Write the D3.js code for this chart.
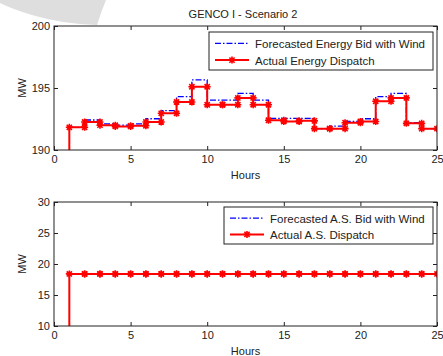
<!DOCTYPE html>
<html>
<head>
<meta charset="utf-8">
<script src="https://cdn.jsdelivr.net/npm/d3@7"></script>
<style>
  body { margin: 0; background: #fff; }
  svg text { font-family: "Liberation Sans", Arial, sans-serif; font-size: 11px; fill: #222; }
</style>
</head>
<body>
<div id="graph"></div>
<script>
// hours 1..24, each value is held until the next hour (stairs)
var hours = d3.range(1, 25);
var energyBid = [191.83, 192.42, 192.1, 192.0, 192.1, 192.52, 193.17, 194.3, 195.65, 194.03, 194.03, 194.57,
                 194.03, 192.55, 192.55, 192.55, 191.72, 191.93, 192.3, 192.52, 194.3, 194.57, 192.2, 191.72];
var energyDispatch = [191.83, 192.26, 192.0, 191.9, 191.95, 192.26, 192.96, 193.87, 195.1, 193.65, 193.65, 194.2,
                      193.65, 192.4, 192.3, 192.35, 191.72, 191.72, 192.2, 192.3, 193.93, 194.2, 192.15, 191.72];
var asBid = [18.4, 18.4, 18.4, 18.4, 18.4, 18.4, 18.4, 18.4, 18.4, 18.4, 18.4, 18.4,
             18.4, 18.4, 18.4, 18.4, 18.4, 18.4, 18.4, 18.4, 18.4, 18.4, 18.4, 18.4];
var asDispatch = [18.4, 18.4, 18.4, 18.4, 18.4, 18.4, 18.4, 18.4, 18.4, 18.4, 18.4, 18.4,
                  18.4, 18.4, 18.4, 18.4, 18.4, 18.4, 18.4, 18.4, 18.4, 18.4, 18.4, 18.4];
var xTicks = [0, 5, 10, 15, 20, 25];
var energyTicks = [190, 195, 200];
var asTicks = [10, 15, 20, 25, 30];

var svgWidth = 443, svgHeight = 356;
var svg = d3.select('#graph').append('svg')
  .attr('width', svgWidth)
  .attr('height', svgHeight);

// faint grey smudge in the top-left corner of the scan
svg.append('path')
  .attr('d', 'M0,0 L106,0 Q101,12 97,25 Q62,24 32,15 Q12,9 0,3 Z')
  .attr('fill', '#dedede');

svg.append('text')
  .attr('x', 243).attr('y', 18)
  .attr('text-anchor', 'middle')
  .text('GENCO I - Scenario 2');

// turn hourly values into step vertices; the series starts from 0 at hour 1
function steps(vals) {
  var pts = [{x: 0, y: 0}, {x: hours[0], y: 0}];
  vals.forEach(function(v, i) {
    pts.push({x: hours[i], y: v});
    pts.push({x: hours[i] + 1, y: v});
  });
  return pts;
}

function star(g, x, y) {
  var s = 3.5, d = 2.6;
  var p = 'M' + (x - s) + ',' + y + 'L' + (x + s) + ',' + y +
          'M' + x + ',' + (y - s) + 'L' + x + ',' + (y + s) +
          'M' + (x - d) + ',' + (y - d) + 'L' + (x + d) + ',' + (y + d) +
          'M' + (x - d) + ',' + (y + d) + 'L' + (x + d) + ',' + (y - d);
  g.append('path').attr('d', p).attr('stroke', '#ff0000').attr('stroke-width', 1.6).attr('fill', 'none');
}

function makePanel(opt) {
  var left = 54, right = 437;
  var x = d3.scaleLinear().domain([0, 25]).range([left, right]);
  var y = d3.scaleLinear().domain(opt.domain).range([opt.bottom, opt.top]);
  var g = svg.append('g');

  g.append('clipPath').attr('id', opt.id)
    .append('rect')
    .attr('x', left).attr('y', opt.top)
    .attr('width', right - left).attr('height', opt.bottom - opt.top);

  g.append('rect')
    .attr('x', left).attr('y', opt.top)
    .attr('width', right - left).attr('height', opt.bottom - opt.top)
    .attr('fill', '#fff');

  // axes with inward ticks on all four sides
  function styleAxis(a) {
    a.select('.domain').remove();
    a.selectAll('line').attr('stroke', '#222');
    a.selectAll('text').style('font-size', '11px').attr('fill', '#222');
  }
  g.append('g').attr('transform', 'translate(0,' + opt.bottom + ')')
    .call(d3.axisBottom(x).tickValues(xTicks).tickSize(-4).tickPadding(5))
    .call(styleAxis);
  g.append('g').attr('transform', 'translate(0,' + opt.top + ')')
    .call(d3.axisTop(x).tickValues(xTicks).tickSize(-4).tickFormat(''))
    .call(styleAxis);
  g.append('g').attr('transform', 'translate(' + left + ',0)')
    .call(d3.axisLeft(y).tickValues(opt.ticks).tickSize(-4).tickPadding(4))
    .call(styleAxis);
  g.append('g').attr('transform', 'translate(' + right + ',0)')
    .call(d3.axisRight(y).tickValues(opt.ticks).tickSize(-4).tickFormat(''))
    .call(styleAxis);

  var line = d3.line().x(function(d) { return x(d.x); }).y(function(d) { return y(d.y); });
  var plot = g.append('g').attr('clip-path', 'url(#' + opt.id + ')');

  var bid = steps(opt.bid), act = steps(opt.act);
  // forecast first, dispatch drawn over it
  plot.append('path').datum(bid.slice(2))
    .attr('fill', 'none').attr('stroke', '#0000ff').attr('stroke-width', 1.3)
    .attr('stroke-dasharray', '6,2,1.5,2')
    .attr('d', line);
  plot.append('path').datum(act)
    .attr('fill', 'none').attr('stroke', '#ff0000').attr('stroke-width', 2)
    .attr('d', line);
  var mk = plot.append('g');
  act.forEach(function(d) {
    if (d.y >= opt.domain[0] && d.x > 0) star(mk, x(d.x), y(d.y));
  });

  g.append('rect')
    .attr('x', left).attr('y', opt.top)
    .attr('width', right - left).attr('height', opt.bottom - opt.top)
    .attr('fill', 'none').attr('stroke', '#222').attr('stroke-width', 1);

  // legend
  var lg = g.append('g');
  lg.append('rect')
    .attr('x', opt.lx).attr('y', opt.ly)
    .attr('width', 433 - opt.lx).attr('height', opt.lh)
    .attr('fill', '#fff').attr('stroke', '#222');
  var r1 = opt.ly + opt.lh * 0.3, r2 = opt.ly + opt.lh * 0.74;
  lg.append('line')
    .attr('x1', opt.lx + 6).attr('x2', opt.lx + 40).attr('y1', r1).attr('y2', r1)
    .attr('stroke', '#0000ff').attr('stroke-width', 1.3).attr('stroke-dasharray', '6,2,1.5,2');
  lg.append('line')
    .attr('x1', opt.lx + 6).attr('x2', opt.lx + 40).attr('y1', r2).attr('y2', r2)
    .attr('stroke', '#ff0000').attr('stroke-width', 2);
  star(lg, opt.lx + 23, r2);
  lg.append('text').attr('x', opt.lx + 46).attr('y', r1 + 4.5)
    .style('font-size', '11.5px').text(opt.names[0]);
  lg.append('text').attr('x', opt.lx + 46).attr('y', r2 + 4.5)
    .style('font-size', '11.5px').text(opt.names[1]);

  g.append('text')
    .attr('x', (left + right) / 2).attr('y', opt.bottom + 29)
    .attr('text-anchor', 'middle').text('Hours');
  g.append('text')
    .attr('transform', 'translate(26,' + ((opt.top + opt.bottom) / 2) + ') rotate(-90)')
    .attr('text-anchor', 'middle').text('MW');
}

makePanel({
  id: 'clip-energy', top: 26, bottom: 150, domain: [190, 200], ticks: energyTicks,
  bid: energyBid, act: energyDispatch,
  lx: 209, ly: 32, lh: 38,
  names: ['Forecasted Energy Bid with Wind', 'Actual Energy Dispatch']
});
makePanel({
  id: 'clip-as', top: 202, bottom: 326, domain: [10, 30], ticks: asTicks,
  bid: asBid, act: asDispatch,
  lx: 224, ly: 207, lh: 37,
  names: ['Forecasted A.S. Bid with Wind', 'Actual A.S. Dispatch']
});
</script>
</body>
</html>
